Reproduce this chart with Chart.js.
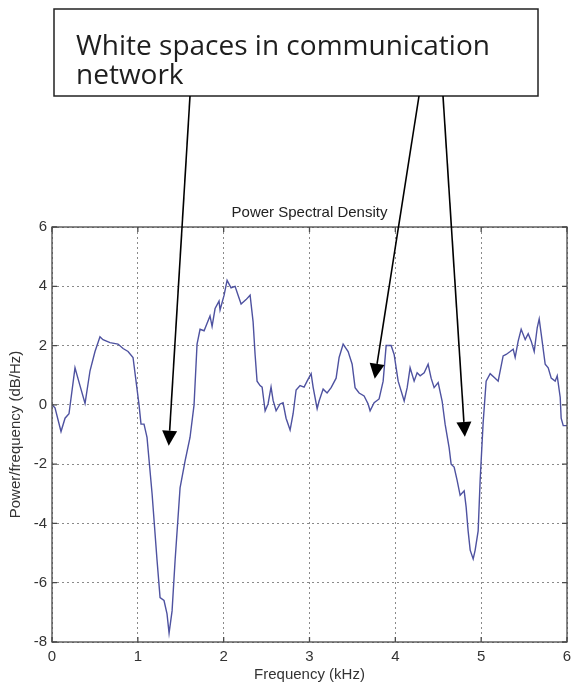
<!DOCTYPE html>
<html>
<head>
<meta charset="utf-8">
<script src="https://cdn.jsdelivr.net/npm/chart.js@4/dist/chart.umd.min.js"></script>
<style>
  html, body { margin: 0; padding: 0; background: #fff; }
  #psd { display: block; }
</style>
</head>
<body>
<canvas id="psd" width="571" height="688"></canvas>
<script>
// data
const freq = [
    0, 0.035, 0.105, 0.152, 0.198, 0.268, 0.326, 0.385, 0.443, 0.501,
    0.559, 0.594, 0.676, 0.769, 0.828, 0.886, 0.944, 0.979, 1.014, 1.037,
    1.072, 1.107, 1.166, 1.224, 1.259, 1.305, 1.340, 1.364, 1.399, 1.434,
    1.492, 1.550, 1.608, 1.655, 1.690, 1.725, 1.772, 1.807, 1.841, 1.865,
    1.900, 1.946, 1.958, 2.005, 2.040, 2.086, 2.133, 2.168, 2.203, 2.261,
    2.308, 2.343, 2.366, 2.389, 2.424, 2.448, 2.483, 2.517, 2.552, 2.576,
    2.611, 2.657, 2.692, 2.727, 2.774, 2.809, 2.844, 2.890, 2.937, 2.972,
    3.019, 3.042, 3.089, 3.112, 3.159, 3.205, 3.252, 3.310, 3.345, 3.392,
    3.450, 3.497, 3.531, 3.578, 3.636, 3.683, 3.706, 3.753, 3.811, 3.858,
    3.893, 3.951, 3.986, 4.033, 4.103, 4.138, 4.172, 4.219, 4.254, 4.289,
    4.336, 4.382, 4.417, 4.452, 4.499, 4.545, 4.580, 4.627, 4.650, 4.685,
    4.720, 4.755, 4.802, 4.825, 4.848, 4.872, 4.907, 4.930, 4.965, 4.988,
    5.023, 5.058, 5.105, 5.163, 5.198, 5.256, 5.291, 5.338, 5.373, 5.396,
    5.431, 5.466, 5.513, 5.548, 5.583, 5.618, 5.653, 5.676, 5.699, 5.746,
    5.781, 5.816, 5.862, 5.886, 5.921, 5.932, 5.956, 6.0
];
const power = [
    0.0, -0.1, -0.9, -0.45, -0.3, 1.25, 0.65, 0.05, 1.15, 1.8,
    2.3, 2.2, 2.1, 2.05, 1.9, 1.8, 1.6, 0.8, 0.0, -0.65,
    -0.65, -1.1, -3.0, -5.25, -6.5, -6.6, -7.05, -7.7, -6.95, -5.25,
    -2.8, -1.9, -1.1, 0.0, 2.05, 2.55, 2.5, 2.75, 3.0, 2.65,
    3.25, 3.5, 3.2, 3.7, 4.2, 3.95, 4.0, 3.7, 3.4, 3.55,
    3.7, 2.8, 1.7, 0.8, 0.65, 0.6, -0.2, 0.03, 0.6, 0.15,
    -0.2, 0.03, 0.07, -0.45, -0.85, -0.3, 0.5, 0.65, 0.6, 0.8,
    1.05, 0.6, -0.13, 0.13, 0.53, 0.4, 0.58, 0.9, 1.6, 2.05,
    1.8, 1.37, 0.58, 0.4, 0.3, 0.03, -0.2, 0.07, 0.2, 0.8,
    2.0, 2.0, 1.7, 0.8, 0.13, 0.58, 1.25, 0.8, 1.08, 0.98,
    1.08, 1.37, 0.9, 0.58, 0.75, 0.13, -0.65, -1.45, -2.0, -2.1,
    -2.55, -3.05, -2.9, -3.45, -4.25, -4.9, -5.2, -4.9, -4.25, -2.55,
    -0.6, 0.8, 1.05, 0.9, 0.8, 1.65, 1.7, 1.8, 1.88, 1.6,
    2.15, 2.55, 2.2, 2.4, 2.15, 1.8, 2.6, 2.9, 2.4, 1.37,
    1.25, 0.9, 0.8, 0.98, 0.25, -0.45, -0.7, -0.7
];
const xTicks = [0, 1, 2, 3, 4, 5, 6];
const yTicks = [-8, -6, -4, -2, 0, 2, 4, 6];

const plotTitle = 'Power Spectral Density';
const xTitle = 'Frequency (kHz)';
const yTitle = 'Power/frequency (dB/Hz)';
const noteLines = ['White spaces in communication', 'network'];
// where the three arrows point, in data units (kHz, dB/Hz)
const arrowTips = [[1.36, -1.38], [3.76, 0.88], [4.81, -1.08]];
// where they leave the note box, in pixels
const arrowStartX = [190, 419, 443];

const axisFont = { family: '"Liberation Sans", Arial, sans-serif', size: 15 };

// box round the axes with small inner tick marks, like matlab
const axesBox = {
    id: 'axesBox',
    afterDatasetsDraw(chart) {
        const { ctx, chartArea: a, scales } = chart;
        ctx.save();
        ctx.strokeStyle = '#4a4a4a';
        ctx.lineWidth = 1.3;
        ctx.strokeRect(a.left, a.top, a.right - a.left, a.bottom - a.top);
        ctx.beginPath();
        xTicks.forEach(v => {
            const px = scales.x.getPixelForValue(v);
            ctx.moveTo(px, a.bottom); ctx.lineTo(px, a.bottom - 5);
            ctx.moveTo(px, a.top); ctx.lineTo(px, a.top + 5);
        });
        yTicks.forEach(v => {
            const py = scales.y.getPixelForValue(v);
            ctx.moveTo(a.left, py); ctx.lineTo(a.left + 5, py);
            ctx.moveTo(a.right, py); ctx.lineTo(a.right - 5, py);
        });
        ctx.stroke();
        ctx.restore();
    }
};

// title, note box and arrows
const notes = {
    id: 'notes',
    afterDraw(chart) {
        const { ctx, chartArea: a, scales } = chart;
        ctx.save();

        ctx.fillStyle = '#222';
        ctx.font = '15px "Liberation Sans", Arial, sans-serif';
        ctx.textAlign = 'center';
        ctx.textBaseline = 'alphabetic';
        ctx.fillText(plotTitle, (a.left + a.right) / 2, a.top - 10);

        // note box
        const bx = 54, by = 9, bw = 484, bh = 87;
        ctx.fillStyle = '#fff';
        ctx.fillRect(bx, by, bw, bh);
        ctx.strokeStyle = '#222';
        ctx.lineWidth = 1.5;
        ctx.strokeRect(bx, by, bw, bh);

        ctx.font = '100px "Open Sans", "Noto Sans", sans-serif';
        const size = 100 * 414 / ctx.measureText(noteLines[0]).width;
        ctx.font = size.toFixed(1) + 'px "Open Sans", "Noto Sans", sans-serif';
        ctx.fillStyle = '#1e1e1e';
        ctx.textAlign = 'left';
        ctx.fillText(noteLines[0], 76, 55);
        ctx.fillText(noteLines[1], 76, 84);

        // arrows
        ctx.strokeStyle = '#000';
        ctx.fillStyle = '#000';
        ctx.lineWidth = 1.6;
        arrowTips.forEach((t, i) => {
            const x0 = arrowStartX[i], y0 = by + bh;
            const x1 = scales.x.getPixelForValue(t[0]);
            const y1 = scales.y.getPixelForValue(t[1]);
            const len = Math.hypot(x1 - x0, y1 - y0);
            const ux = (x1 - x0) / len, uy = (y1 - y0) / len;
            const head = 15, half = 7.5;
            const hx = x1 - ux * head, hy = y1 - uy * head;
            ctx.beginPath();
            ctx.moveTo(x0, y0);
            ctx.lineTo(hx, hy);
            ctx.stroke();
            ctx.beginPath();
            ctx.moveTo(x1, y1);
            ctx.lineTo(hx - uy * half, hy + ux * half);
            ctx.lineTo(hx + uy * half, hy - ux * half);
            ctx.closePath();
            ctx.fill();
        });
        ctx.restore();
    }
};

const ctx = document.getElementById('psd').getContext('2d');
const psdChart = new Chart(ctx, {
    type: 'line',
    data: {
        datasets: [{
            data: freq.map((f, i) => ({ x: f, y: power[i] })),
            borderColor: 'rgb(78, 82, 160)',
            borderWidth: 1.4,
            pointRadius: 0,
            tension: 0,
            fill: false
        }]
    },
    options: {
        responsive: false,
        animation: false,
        layout: { padding: { top: 227, right: 4, left: 0, bottom: 0 } },
        plugins: {
            legend: { display: false },
            tooltip: { enabled: false }
        },
        scales: {
            x: {
                type: 'linear',
                min: 0,
                max: 6,
                afterFit: s => { s.height = 46; s.paddingLeft = 0; s.paddingRight = 0; },
                afterBuildTicks: s => { s.ticks = xTicks.map(v => ({ value: v })); },
                ticks: { color: '#333', font: axisFont, padding: 6, maxRotation: 0 },
                grid: { color: '#8a8a8a', drawTicks: false },
                border: { display: false, dash: [2, 3] },
                title: { display: true, text: xTitle, color: '#333', font: axisFont, padding: { top: 0, bottom: 4 } }
            },
            y: {
                min: -8,
                max: 6,
                afterFit: s => { s.width = 52; s.paddingTop = 0; s.paddingBottom = 0; },
                afterBuildTicks: s => { s.ticks = yTicks.map(v => ({ value: v })); },
                ticks: { color: '#333', font: axisFont, padding: 5 },
                grid: { color: '#8a8a8a', drawTicks: false },
                border: { display: false, dash: [2, 3] },
                title: { display: true, text: yTitle, color: '#333', font: axisFont, padding: { top: 7, bottom: 0 } }
            }
        }
    },
    plugins: [axesBox, notes]
});
</script>
</body>
</html>
